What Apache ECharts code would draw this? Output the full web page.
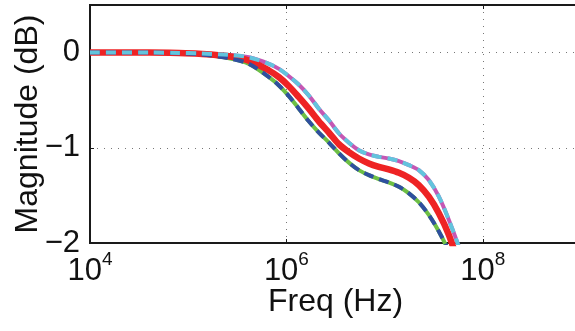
<!DOCTYPE html>
<html>
<head>
<meta charset="utf-8">
<script src="https://cdn.jsdelivr.net/npm/echarts@6/dist/echarts.min.js"></script>
<style>
html,body{margin:0;padding:0;background:#fff;}
#c{width:575px;height:331px;}
</style>
</head>
<body>
<div id="c"></div>
<script>
// Frequencies (Hz) at which the curves were read
const freq = [1e4, 3.99e4, 8.05e4, 1.285e5, 2.6e5, 4.15e5, 6.64e5, 8.39e5, 1.06e6, 1.34e6, 1.69e6, 2.14e6, 2.71e6, 3.42e6, 4.33e6, 5.47e6, 6.92e6, 8.74e6, 1.10e7, 1.40e7, 1.77e7, 2.23e7, 2.82e7, 3.57e7, 4.51e7, 5.70e7, 7.21e7];
// Upper pair (magenta solid + cyan dashed), dB
const upper = [0, 0, -0.003, -0.008, -0.024, -0.049, -0.118, -0.171, -0.248, -0.338, -0.450, -0.589, -0.711, -0.847, -0.946, -1.025, -1.070, -1.095, -1.112, -1.140, -1.182, -1.234, -1.339, -1.513, -1.757, -2.040, -2.385];
// Middle (red), dB
const middle = [0, 0, -0.005, -0.013, -0.039, -0.084, -0.188, -0.258, -0.353, -0.468, -0.589, -0.722, -0.840, -0.962, -1.046, -1.112, -1.164, -1.200, -1.227, -1.263, -1.315, -1.391, -1.514, -1.687, -1.914, -2.228, -2.594];
// Lower pair (green solid + dark blue dashed), dB
const lower = [0, 0, -0.006, -0.016, -0.060, -0.118, -0.258, -0.345, -0.457, -0.589, -0.722, -0.840, -0.945, -1.057, -1.156, -1.234, -1.287, -1.328, -1.363, -1.409, -1.478, -1.572, -1.705, -1.879, -2.092, -2.385, -2.751];

const xTicks = [1e4, 1e6, 1e8];
const yTicks = [-2, -1, 0];

function pairs(ys){ return freq.map((f,i)=>[f, ys[i]]); }

const chart = echarts.init(document.getElementById('c'), null, {renderer:'canvas'});
const FONT = 'Liberation Sans';
const mkLine = (name, ys, color, width, type, z) => ({
  name, type:'line', data: pairs(ys), showSymbol:false, smooth:0.3,
  lineStyle:{color, width, type}, z, clip:true, animation:false
});
chart.setOption({
  animation:false,
  grid:{left:90, top:5, width:491, height:238, containLabel:false, outerBoundsMode:'none',
        show:true, borderColor:'#1a1a1a', borderWidth:2, backgroundColor:'#fff'},
  xAxis:[{
    type:'log', logBase:10, min:1e4, max:1e9, interval:2,
    name:'Freq (Hz)', nameLocation:'middle', nameGap:43, nameMoveOverlap:false,
    nameTextStyle:{fontFamily:FONT, fontSize:32, color:'#111'},
    axisLine:{show:true, onZero:false, lineStyle:{color:'#1a1a1a', width:2}},
    axisTick:{show:true, inside:true, length:4, lineStyle:{color:'#1a1a1a'}},
    splitLine:{show:true, lineStyle:{color:'#777', width:1, type:[1,6]}},
    axisLabel:{
      margin:13, showMaxLabel:false,
      formatter:(v)=>{ const e=Math.round(Math.log10(v)); return xTicks.includes(Math.pow(10,e)) ? '{b|10}{s|'+e+'}' : ''; },
      rich:{
        b:{fontFamily:FONT, fontSize:31, lineHeight:31, color:'#111', verticalAlign:'bottom'},
        s:{fontFamily:FONT, fontSize:19, lineHeight:19, color:'#111', verticalAlign:'bottom', padding:[0,0,18,0]}
      }
    }
  },{
    type:'log', logBase:10, min:1e4, max:1e9, interval:2, position:'top',
    axisLine:{show:true, onZero:false, lineStyle:{color:'#1a1a1a', width:2}},
    axisTick:{show:true, inside:true, length:4, lineStyle:{color:'#1a1a1a'}},
    axisLabel:{show:false}, splitLine:{show:false}
  }],
  yAxis:{
    type:'value', min:-2, max:0.5, interval:1,
    name:'Magnitude (dB)', nameLocation:'middle', nameGap:46, nameMoveOverlap:false,
    nameTextStyle:{fontFamily:FONT, fontSize:32, color:'#111'},
    axisLine:{show:true, onZero:false, lineStyle:{color:'#1a1a1a', width:2}},
    axisTick:{show:true, inside:true, length:4, lineStyle:{color:'#1a1a1a'}},
    splitLine:{show:true, lineStyle:{color:'#777', width:1, type:[1,6]}},
    axisLabel:{
      margin:10, showMaxLabel:false, fontFamily:FONT, fontSize:31, color:'#111',
      formatter:(v)=> yTicks.includes(v) ? String(v).replace('-', '\u2212') : ''
    }
  },
  series:[
    mkLine('upper', upper, '#c457b4', 4, 'solid', 2),
    mkLine('lower', lower, '#6dbf44', 4, 'solid', 2),
    mkLine('middle', middle, '#ee2324', 6.5, 'solid', 3),
    mkLine('lowerDash', lower, '#2f4f9f', 4, [10,6], 4),
    mkLine('upperDash', upper, '#62c4dd', 4, [10,6], 4)
  ]
});
</script>
</body>
</html>
